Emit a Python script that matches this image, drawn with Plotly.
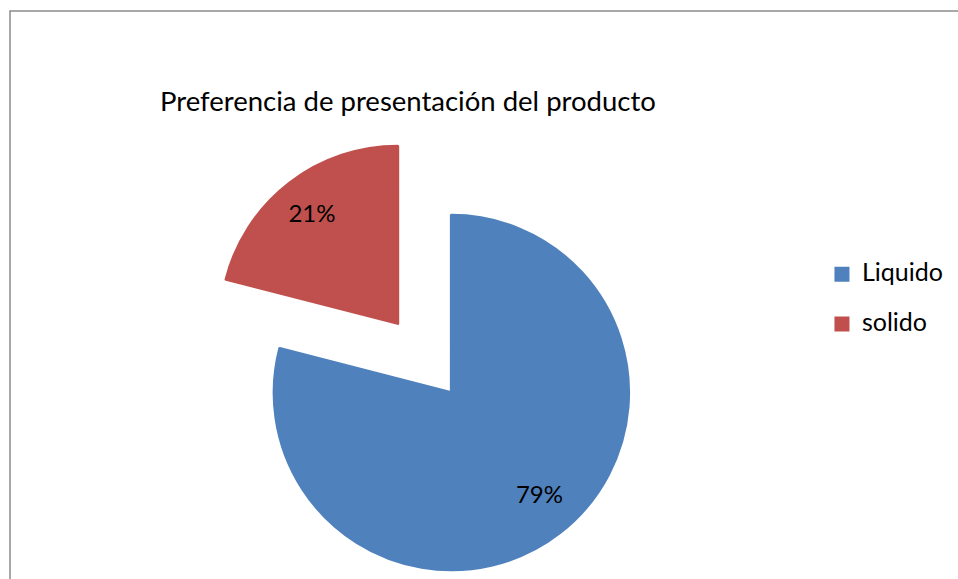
import plotly.graph_objects as go

# Data
labels = ["Liquido", "solido"]
values = [79, 21]
colors = ["#4F81BD", "#C0504D"]
title_text = "Preferencia de presentación del producto"

W, H = 958, 579
NB = "\u00a0"

# label padding (non-breaking spaces / blank lines) nudges the library-placed text
texttemplates = [
    NB + "<br>" + NB + "<br>" + NB * 11 + "%{percent}",
    "<span style='font-size:24px'>%{percent}" + NB * 6 + "</span><br>" + NB,
]

fig = go.Figure()
fig.add_trace(go.Pie(
    labels=[f"<span style='font-size:25px'>{l}</span><br> " for l in labels],
    values=values,
    marker=dict(colors=colors, line=dict(width=3, color=colors)),
    sort=False,
    direction="clockwise",
    rotation=0,
    pull=[0.247, 0.247],
    texttemplate=texttemplates,
    textposition="inside",
    insidetextorientation="horizontal",
    insidetextfont=dict(family="Lato", size=[24, 35], color="#000000"),
    domain=dict(x=[0.1926, 0.6937], y=[0.0, 1 - 137 / H]),
    hoverinfo="percent",
))

fig.update_layout(
    width=W, height=H,
    margin=dict(l=0, r=0, t=0, b=0),
    paper_bgcolor="#FFFFFF",
    plot_bgcolor="#FFFFFF",
    font=dict(family="Lato", color="#000000"),
    title=dict(text=title_text, x=160 / W, xanchor="left",
               y=1 - 101 / H, yanchor="middle",
               font=dict(family="Lato", size=27.5, color="#000000")),
    showlegend=True,
    legend=dict(x=0.858, xanchor="left", y=1 - 311 / H, yanchor="middle",
                valign="top",
                font=dict(family="Lato", size=18, color="#000000"),
                bgcolor="rgba(0,0,0,0)", traceorder="normal"),
    shapes=[dict(type="rect", xref="paper", yref="paper",
                 x0=10 / W, x1=1.02, y0=-0.02, y1=1 - 11 / H,
                 line=dict(color="#8C8C8C", width=1.5), fillcolor="rgba(0,0,0,0)",
                 layer="below")],
)

fig.write_html("out.html", config={"displayModeBar": False},
               post_script="document.body.style.margin='0';")
